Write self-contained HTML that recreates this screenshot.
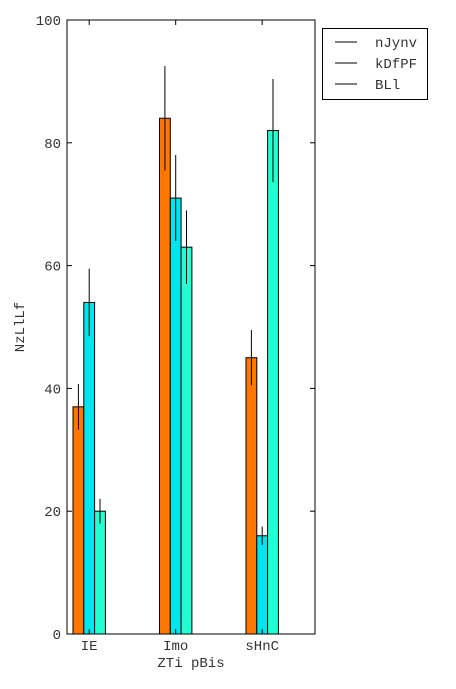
<!DOCTYPE html>
<html><head><meta charset="utf-8"><style>
body{margin:0;background:#fff;}
svg text{font-family:"Liberation Mono","DejaVu Sans Mono",monospace;font-size:14px;fill:#333;}
</style></head><body>
<svg width="456" height="684" xmlns="http://www.w3.org/2000/svg">
<g id="g"></g>
<script>
const categories=["IE","Imo","sHnC"];
const seriesNames=["nJynv","kDfPF","BLl"];
const colors=["#ff7700","#00e5ee","#22ffd2"];
const s1=[37,84,45];
const s2=[54,71,16];
const s3=[20,63,82];
const e1=[3.7,8.5,4.5];
const e2=[5.5,7,1.5];
const e3=[2,6,8.4];
const yTicks=[0,20,40,60,80,100];
const series=[s1,s2,s3], errs=[e1,e2,e3];
const L=67,R=315,T=20,B=634;
const y=v=>B-(v/100)*(B-T);
const gx=i=>73+86.5*i;
const bw=10.8;
const NS="http://www.w3.org/2000/svg";
const g=document.getElementById('g');
function mk(t,a,p){const e=document.createElementNS(NS,t);for(const k in a)e.setAttribute(k,a[k]);(p||g).appendChild(e);return e;}
series.forEach((s,si)=>{s.forEach((v,ci)=>{
 const x=gx(ci)+si*bw;
 const r=mk('rect',{x:x,y:y(v),width:bw,height:y(0)-y(v),fill:colors[si],stroke:'#000','stroke-width':1});
 
 
 const e=errs[si][ci];
 const l=mk('line',{x1:x+bw/2,x2:x+bw/2,y1:y(v-e),y2:y(v+e),stroke:'#000','stroke-width':1});
 
 
});});
const fr=mk('rect',{x:L,y:T,width:R-L,height:B-T,fill:'none',stroke:'#000','stroke-width':1});


yTicks.forEach(t=>{
 mk('line',{x1:L,x2:L+5,y1:y(t),y2:y(t),stroke:'#000'});
 mk('line',{x1:R-5,x2:R,y1:y(t),y2:y(t),stroke:'#000'});
 const tx=mk('text',{x:L-6,y:y(t)+5,'text-anchor':'end'});tx.textContent=t;
 
 
});
categories.forEach((c,ci)=>{
 const cx=gx(ci)+bw*1.5;
 mk('line',{x1:cx,x2:cx,y1:B,y2:B-5,stroke:'#000'});
 mk('line',{x1:cx,x2:cx,y1:T,y2:T+5,stroke:'#000'});
 const tx=mk('text',{x:cx,y:B+16,'text-anchor':'middle'});tx.textContent=c;
 
 
});
</script>
<text x="191" y="667" text-anchor="middle">ZTi pBis</text>
<text x="24" y="327" text-anchor="middle" transform="rotate(-90 24 327)">NzLlLf</text>
<g>
<rect x="322.5" y="28.5" width="105" height="71" fill="#fff" stroke="#000"/>
<line x1="335" x2="357" y1="42" y2="42" stroke="#000"/><text x="375" y="47">nJynv</text>
<line x1="335" x2="357" y1="63" y2="63" stroke="#000"/><text x="375" y="68">kDfPF</text>
<line x1="335" x2="357" y1="84" y2="84" stroke="#000"/><text x="375" y="89">BLl</text>
</g>
</svg>
</body></html>
